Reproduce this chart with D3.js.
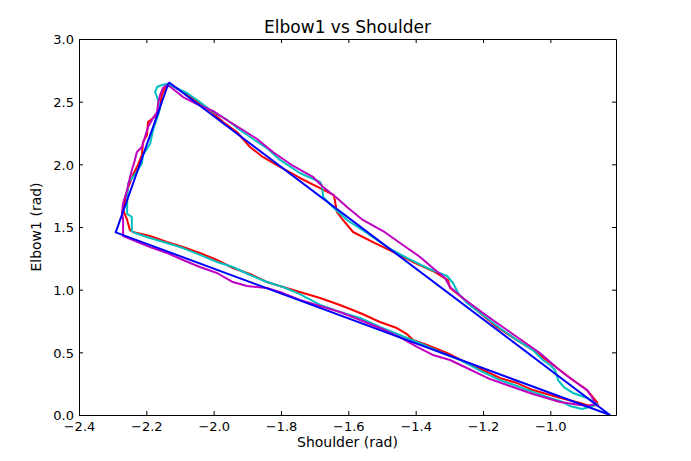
<!DOCTYPE html>
<html>
<head>
<meta charset="utf-8">
<script src="https://cdn.jsdelivr.net/npm/d3@7"></script>
<style>
    body { margin: 0; background: #fff; }
    svg { display: block; }
    text { font-family: "DejaVu Sans", sans-serif; fill: #000; }
</style>
</head>
<body>
<div id="chart"></div>
<script>
"use strict";

// axis settings
var xTicks = [-2.4, -2.2, -2.0, -1.8, -1.6, -1.4, -1.2, -1.0];
var yTicks = [0.0, 0.5, 1.0, 1.5, 2.0, 2.5, 3.0];
var xDomain = [-2.4, -0.805];
var yDomain = [0, 3.0];

// commanded trajectory (straight triangle)
var bluePts = [
    [-2.133, 2.655], [-2.291, 1.457], [-0.823, 0.0], [-2.133, 2.655]
];

// measured trajectories, one loop each
var redPts = [
    [-2.136, 2.633], [-2.115, 2.617], [-2.079, 2.553], [-2.041, 2.489], [-2.002, 2.410],
    [-1.972, 2.338], [-1.931, 2.258], [-1.892, 2.138], [-1.854, 2.059], [-1.803, 1.979],
    [-1.744, 1.891], [-1.684, 1.811], [-1.643, 1.755], [-1.634, 1.620], [-1.616, 1.556],
    [-1.586, 1.460], [-1.527, 1.380], [-1.467, 1.301], [-1.408, 1.221], [-1.349, 1.149],
    [-1.304, 1.077], [-1.298, 1.013], [-1.260, 0.934], [-1.209, 0.814], [-1.159, 0.702],
    [-1.099, 0.598], [-1.052, 0.519], [-0.992, 0.399], [-0.933, 0.279], [-0.891, 0.199],
    [-0.862, 0.104], [-0.859, 0.080], [-0.882, 0.072], [-0.912, 0.096], [-0.980, 0.144],
    [-1.052, 0.199], [-1.099, 0.255], [-1.150, 0.295], [-1.200, 0.359], [-1.248, 0.415],
    [-1.307, 0.495], [-1.366, 0.559], [-1.408, 0.598], [-1.426, 0.646], [-1.456, 0.694],
    [-1.506, 0.742], [-1.565, 0.814], [-1.625, 0.878], [-1.684, 0.934], [-1.744, 0.981],
    [-1.794, 1.021], [-1.842, 1.061], [-1.892, 1.125], [-1.943, 1.173], [-1.990, 1.237],
    [-2.041, 1.293], [-2.091, 1.340], [-2.139, 1.380], [-2.189, 1.428], [-2.240, 1.460],
    [-2.249, 1.476], [-2.257, 1.556], [-2.269, 1.636], [-2.263, 1.715], [-2.257, 1.795],
    [-2.249, 1.851], [-2.240, 1.915], [-2.225, 1.995], [-2.213, 2.075], [-2.210, 2.178],
    [-2.198, 2.234], [-2.195, 2.338], [-2.180, 2.370], [-2.165, 2.394], [-2.159, 2.473],
    [-2.154, 2.553], [-2.145, 2.609], [-2.136, 2.633]
];

var cyanPts = [
    [-2.154, 2.633], [-2.139, 2.641], [-2.124, 2.625], [-2.079, 2.569], [-2.041, 2.497],
    [-2.002, 2.418], [-1.960, 2.354], [-1.922, 2.274], [-1.883, 2.202], [-1.842, 2.130],
    [-1.803, 2.035], [-1.744, 1.931], [-1.684, 1.859], [-1.678, 1.827], [-1.675, 1.739],
    [-1.646, 1.660], [-1.604, 1.556], [-1.545, 1.452], [-1.485, 1.340], [-1.426, 1.253],
    [-1.366, 1.173], [-1.307, 1.109], [-1.289, 1.053], [-1.274, 0.973], [-1.248, 0.894],
    [-1.200, 0.798], [-1.150, 0.694], [-1.099, 0.598], [-1.052, 0.519], [-1.022, 0.439],
    [-1.001, 0.399], [-0.986, 0.359], [-0.977, 0.279], [-0.960, 0.223], [-0.933, 0.176],
    [-0.891, 0.136], [-0.862, 0.088], [-0.873, 0.072], [-0.906, 0.048], [-0.942, 0.072],
    [-0.971, 0.112], [-1.001, 0.136], [-1.052, 0.184], [-1.099, 0.231], [-1.150, 0.279],
    [-1.200, 0.343], [-1.268, 0.439], [-1.328, 0.503], [-1.387, 0.574], [-1.447, 0.638],
    [-1.506, 0.702], [-1.565, 0.774], [-1.625, 0.822], [-1.684, 0.878], [-1.744, 0.965],
    [-1.794, 1.021], [-1.842, 1.061], [-1.892, 1.117], [-1.943, 1.181], [-1.990, 1.221],
    [-2.041, 1.277], [-2.091, 1.332], [-2.139, 1.372], [-2.189, 1.412], [-2.234, 1.452],
    [-2.243, 1.468], [-2.243, 1.580], [-2.257, 1.604], [-2.257, 1.692], [-2.254, 1.851],
    [-2.231, 1.931], [-2.213, 2.011], [-2.210, 2.075], [-2.189, 2.162], [-2.180, 2.274],
    [-2.168, 2.370], [-2.159, 2.449], [-2.165, 2.513], [-2.174, 2.577], [-2.168, 2.617],
    [-2.154, 2.633]
];

var magentaPts = [
    [-2.139, 2.633], [-2.124, 2.609], [-2.091, 2.537], [-2.050, 2.481], [-2.002, 2.426],
    [-1.952, 2.338], [-1.913, 2.274], [-1.871, 2.202], [-1.824, 2.098], [-1.764, 1.987],
    [-1.705, 1.899], [-1.675, 1.819], [-1.634, 1.731], [-1.604, 1.660], [-1.557, 1.556],
    [-1.497, 1.468], [-1.438, 1.356], [-1.387, 1.261], [-1.349, 1.173], [-1.313, 1.093],
    [-1.298, 1.021], [-1.260, 0.934], [-1.200, 0.814], [-1.150, 0.718], [-1.099, 0.622],
    [-1.031, 0.495], [-0.980, 0.375], [-0.942, 0.295], [-0.891, 0.199], [-0.867, 0.104],
    [-0.867, 0.088], [-0.888, 0.072], [-0.912, 0.080], [-0.971, 0.104], [-1.052, 0.168],
    [-1.120, 0.231], [-1.179, 0.287], [-1.248, 0.375], [-1.298, 0.439], [-1.349, 0.479],
    [-1.396, 0.543], [-1.447, 0.622], [-1.506, 0.694], [-1.565, 0.758], [-1.625, 0.822],
    [-1.684, 0.870], [-1.744, 0.918], [-1.794, 0.973], [-1.842, 1.013], [-1.901, 1.029],
    [-1.943, 1.061], [-1.990, 1.133], [-2.041, 1.181], [-2.091, 1.237], [-2.139, 1.293],
    [-2.189, 1.340], [-2.240, 1.396], [-2.269, 1.428], [-2.269, 1.452], [-2.269, 1.556],
    [-2.272, 1.620], [-2.269, 1.692], [-2.257, 1.795], [-2.249, 1.891], [-2.243, 1.955],
    [-2.234, 2.035], [-2.228, 2.098], [-2.213, 2.138], [-2.204, 2.218], [-2.195, 2.298],
    [-2.180, 2.370], [-2.168, 2.418], [-2.165, 2.489], [-2.159, 2.553], [-2.151, 2.609],
    [-2.139, 2.633]
];

var series = [
    {name: "red", color: "#ff0000", pts: redPts},
    {name: "cyan", color: "#00bfbf", pts: cyanPts},
    {name: "magenta", color: "#bf00bf", pts: magentaPts},
    {name: "blue", color: "#0000ff", pts: bluePts}
];

var W = 691, H = 461;
var margin = {top: 39, right: 75, bottom: 46, left: 79};
var w = W - margin.left - margin.right,
    h = H - margin.top - margin.bottom;

var svg = d3.select("#chart")
    .append("svg")
    .attr("width", W)
    .attr("height", H);

var g = svg.append("g")
    .attr("transform", "translate(" + margin.left + "," + margin.top + ")");

var x = d3.scaleLinear().domain(xDomain).range([0, w]);
var y = d3.scaleLinear().domain(yDomain).range([h, 0]);
var fmt = d3.format(".1f");

g.append("clipPath").attr("id", "plotclip")
    .append("rect").attr("width", w).attr("height", h);

var line = d3.line()
    .x(function (d) { return x(d[0]); })
    .y(function (d) { return y(d[1]); });

var plot = g.append("g").attr("clip-path", "url(#plotclip)");
series.forEach(function (s) {
    plot.append("path")
        .datum(s.pts)
        .attr("fill", "none")
        .attr("stroke", s.color)
        .attr("stroke-width", 2)
        .attr("stroke-linejoin", "round")
        .attr("d", line);
});

function styleAxis(sel) {
    sel.selectAll("path.domain").attr("stroke", "#000").attr("stroke-width", 1);
    sel.selectAll(".tick line").attr("stroke", "#000").attr("stroke-width", 1);
    sel.selectAll(".tick text")
        .style("font-family", "DejaVu Sans")
        .style("font-size", "13px")
        .attr("fill", "#000");
}

var xAxis = g.append("g")
    .attr("transform", "translate(0," + h + ")")
    .call(d3.axisBottom(x).tickValues(xTicks).tickFormat(fmt)
        .tickSizeInner(-4).tickSizeOuter(0).tickPadding(7));
styleAxis(xAxis);

var yAxis = g.append("g")
    .call(d3.axisLeft(y).tickValues(yTicks).tickFormat(fmt)
        .tickSizeInner(-4).tickSizeOuter(0).tickPadding(5));
styleAxis(yAxis);
yAxis.selectAll(".tick text").attr("dy", "0.36em");

var xTop = g.append("g")
    .call(d3.axisTop(x).tickValues(xTicks).tickFormat("")
        .tickSizeInner(-4).tickSizeOuter(0));
styleAxis(xTop);

var yRight = g.append("g")
    .attr("transform", "translate(" + w + ",0)")
    .call(d3.axisRight(y).tickValues(yTicks).tickFormat("")
        .tickSizeInner(-4).tickSizeOuter(0));
styleAxis(yRight);

g.append("text")
    .attr("x", w / 2)
    .attr("y", -6)
    .attr("text-anchor", "middle")
    .style("font-size", "17px")
    .text("Elbow1 vs Shoulder");

g.append("text")
    .attr("x", w / 2)
    .attr("y", h + 32)
    .attr("text-anchor", "middle")
    .style("font-size", "14px")
    .text("Shoulder (rad)");

g.append("text")
    .attr("transform", "translate(" + (-38) + "," + (h / 2) + ") rotate(-90)")
    .attr("text-anchor", "middle")
    .style("font-size", "14px")
    .text("Elbow1 (rad)");
</script>
</body>
</html>
